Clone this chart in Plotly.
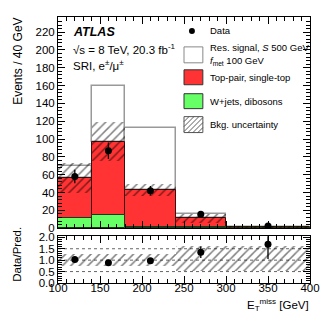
import plotly.graph_objects as go

# ---- data ----
bin_lo = [100, 140, 180, 240, 300]
bin_hi = [140, 180, 240, 300, 400]
wjets = [11, 14.5, 1.0, 0.8, 0.4]          # W+jets, dibosons (events / 40 GeV)
top = [45, 82.5, 42, 10.2, 0.8]            # top-pair, single-top
signal = [14, 63, 69, 5, 0.5]              # resonant signal on top of bkg
bkg_err = [17, 22, 7, 5.5, 1.0]            # bkg uncertainty
data_x = [120, 160, 210, 270, 350]
data_y = [58, 87, 42, 15.6, 2.6]
data_err = [7.6, 9.3, 5.3, 3.2, 1.2]
ratio_y = [1.03, 0.89, 0.97, 1.35, 1.7]
ratio_err = [0.13, 0.1, 0.09, 0.25, 0.65]
ratio_band_lo = [0.75, 0.75, 0.75, 0.5, 0.5]
ratio_band_hi = [1.25, 1.25, 1.25, 1.6, 1.6]
y_ticks = list(range(0, 221, 20))
r_ticks = [0.0, 0.5, 1.0, 1.5, 2.0]
x_ticks = [100, 150, 200, 250, 300, 350, 400]

centers = [(a + b) / 2 for a, b in zip(bin_lo, bin_hi)]
widths = [b - a for a, b in zip(bin_lo, bin_hi)]
bkg = [w + t for w, t in zip(wjets, top)]

RED = "#ff3333"
GREEN = "#66ff66"
FONT = "Liberation Sans, Arial, sans-serif"
HATCH = dict(shape="/", fgcolor="black", bgcolor="rgba(0,0,0,0)", size=6, solidity=0.25, fillmode="overlay")

fig = go.Figure()

# signal (white box, grey outline) stacked on bkg
fig.add_trace(go.Bar(x=centers, width=widths, y=signal, base=bkg,
                     marker=dict(color="white", line=dict(color="#999999", width=1.5)),
                     xaxis="x", yaxis="y", showlegend=False))
# top
fig.add_trace(go.Bar(x=centers, width=widths, y=top, base=wjets,
                     marker=dict(color=RED, line=dict(color="#3a1010", width=1)),
                     xaxis="x", yaxis="y", showlegend=False))
# wjets
fig.add_trace(go.Bar(x=centers, width=widths, y=wjets, base=[0] * 5,
                     marker=dict(color=GREEN, line=dict(color="#1a3a1a", width=1)),
                     xaxis="x", yaxis="y", showlegend=False))
# bkg uncertainty
fig.add_trace(go.Bar(x=centers, width=widths, y=[2 * e for e in bkg_err],
                     base=[b - e for b, e in zip(bkg, bkg_err)],
                     marker=dict(color="rgba(0,0,0,0)", line=dict(width=0), pattern=HATCH),
                     xaxis="x", yaxis="y", showlegend=False))
# data
fig.add_trace(go.Scatter(x=data_x, y=data_y, mode="markers",
                         marker=dict(color="black", size=7),
                         error_y=dict(type="data", array=data_err, color="black", width=0, thickness=1.3),
                         xaxis="x", yaxis="y", showlegend=False))

# ratio band
fig.add_trace(go.Bar(x=centers, width=widths,
                     y=[h - l for h, l in zip(ratio_band_hi, ratio_band_lo)], base=ratio_band_lo,
                     marker=dict(color="rgba(0,0,0,0)", line=dict(width=0), pattern=HATCH),
                     xaxis="x2", yaxis="y2", showlegend=False))
fig.add_trace(go.Scatter(x=data_x, y=ratio_y, mode="markers",
                         marker=dict(color="black", size=7),
                         error_y=dict(type="data", array=ratio_err, color="black", width=0, thickness=1.3),
                         xaxis="x2", yaxis="y2", showlegend=False, cliponaxis=True))

# dotted reference lines in ratio
for v in [0.5, 1.0, 1.5]:
    fig.add_shape(type="line", xref="x2", yref="y2", x0=100, x1=400, y0=v, y1=v,
                  line=dict(color="#666666", width=1, dash="dot"), layer="below")

# geometry helpers (pixel -> paper)
L, R, T, B = 58, 20, 16, 36
W, H = 332 - L - R, 319 - T - B
def px(x): return (x - L) / W
def py(y): return (319 - B - y) / H

axis_common = dict(showline=True, linecolor="black", linewidth=1, mirror="allticks",
                   ticks="inside", ticklen=7, tickcolor="black", showgrid=False, zeroline=False,
                   tickfont=dict(family=FONT, size=11.5, color="black"))

fig.update_layout(
    width=332, height=319, margin=dict(l=L, r=R, t=T, b=B),
    plot_bgcolor="white", paper_bgcolor="white", barmode="overlay", bargap=0,
    font=dict(family=FONT, color="black"),
    xaxis=dict(domain=[0, 1], anchor="y", range=[100, 400], showticklabels=False,
               tickvals=x_ticks, minor=dict(ticks="inside", ticklen=4, dtick=10, tickcolor="black"),
               **axis_common),
    yaxis=dict(domain=[py(228), 1], anchor="x", range=[0, 237], tickvals=y_ticks,
               minor=dict(ticks="inside", ticklen=4, dtick=4, tickcolor="black"), **axis_common),
    xaxis2=dict(domain=[0, 1], anchor="y2", range=[100, 400], tickvals=x_ticks, ticklabelstandoff=-6,
                minor=dict(ticks="inside", ticklen=4, dtick=10, tickcolor="black"), **axis_common),
    yaxis2=dict(domain=[0, py(236)], anchor="x2", range=[0, 2.05], tickvals=r_ticks,
                ticktext=["0.0", "0.5", "1.0", "1.5", "2.0"],
                minor=dict(ticks="inside", ticklen=4, dtick=0.1, tickcolor="black"), **axis_common),
)

def ann(text, x, y, size, xanchor="left", yanchor="middle", angle=0, color="black"):
    fig.add_annotation(text=text, x=px(x), y=py(y), xref="paper", yref="paper",
                       xanchor=xanchor, yanchor=yanchor, showarrow=False, textangle=angle,
                       font=dict(family=FONT, size=size, color=color))

# axis titles
ann("Events / 40 GeV", 17, 15, 12, xanchor="center", yanchor="top", angle=-90)
ann("Data/Pred.", 17, 284, 11.5, xanchor="center", yanchor="bottom", angle=-90)
ann("E<sub>T</sub><sup>miss</sup> [GeV]", 313, 305, 11.5, xanchor="right")

# labels
ann("<b><i>ATLAS</i></b>", 71, 31, 12.5)
ann("√s = 8 TeV, 20.3 fb<sup>-1</sup>", 71, 48, 11.5)
ann("SRI, e<sup>±</sup>/μ<sup>±</sup>", 71, 64, 11.5)

# legend
fig.add_shape(type="circle", xref="paper", yref="paper", x0=px(190), x1=px(196), y0=py(27), y1=py(33),
              fillcolor="black", line=dict(width=0))
ann("Data", 209, 30, 9.5)
boxes = [(46, 62, "white", "#888888"), (69, 84, RED, "#333333"), (93, 108, GREEN, "#333333")]
for y0, y1, fc, lc in boxes:
    fig.add_shape(type="rect", xref="paper", yref="paper", x0=px(185), x1=px(204), y0=py(y1), y1=py(y0),
                  fillcolor=fc, line=dict(color=lc, width=1))
ann("Res. signal, <i>S</i> 500 GeV", 209, 47, 9.5)
ann("<i>f</i><sub>met</sub> 100 GeV", 209, 60, 9.5)
ann("Top-pair, single-top", 209, 77, 9.5)
ann("W+jets, dibosons", 209, 101, 9.5)
ann("Bkg. uncertainty", 209, 124, 9.5)
# hatch legend box drawn via diagonal lines
fig.add_shape(type="rect", xref="paper", yref="paper", x0=px(185), x1=px(204), y0=py(132), y1=py(116),
              fillcolor="white", line=dict(color="#555555", width=1))
for k in range(-16, 20, 5):
    xa, ya, xb, yb = 185 + k, 132, 185 + k + 16, 116
    if xa < 185:
        ya = 132 - (185 - xa); xa = 185
    if xb > 204:
        yb = 116 + (xb - 204); xb = 204
    if xa < xb:
        fig.add_shape(type="line", xref="paper", yref="paper", x0=px(xa), y0=py(ya), x1=px(xb), y1=py(yb),
                      line=dict(color="#333333", width=0.8))

fig.write_html("out.html", config={"displayModeBar": False})

# remove default page margin so the 332x319 figure fills the window exactly
with open("out.html", encoding="utf-8") as f:
    html = f.read()
html = html.replace("<head>", "<head><style>html,body{margin:0;padding:0;overflow:hidden;}</style>", 1)
with open("out.html", "w", encoding="utf-8") as f:
    f.write(html)
